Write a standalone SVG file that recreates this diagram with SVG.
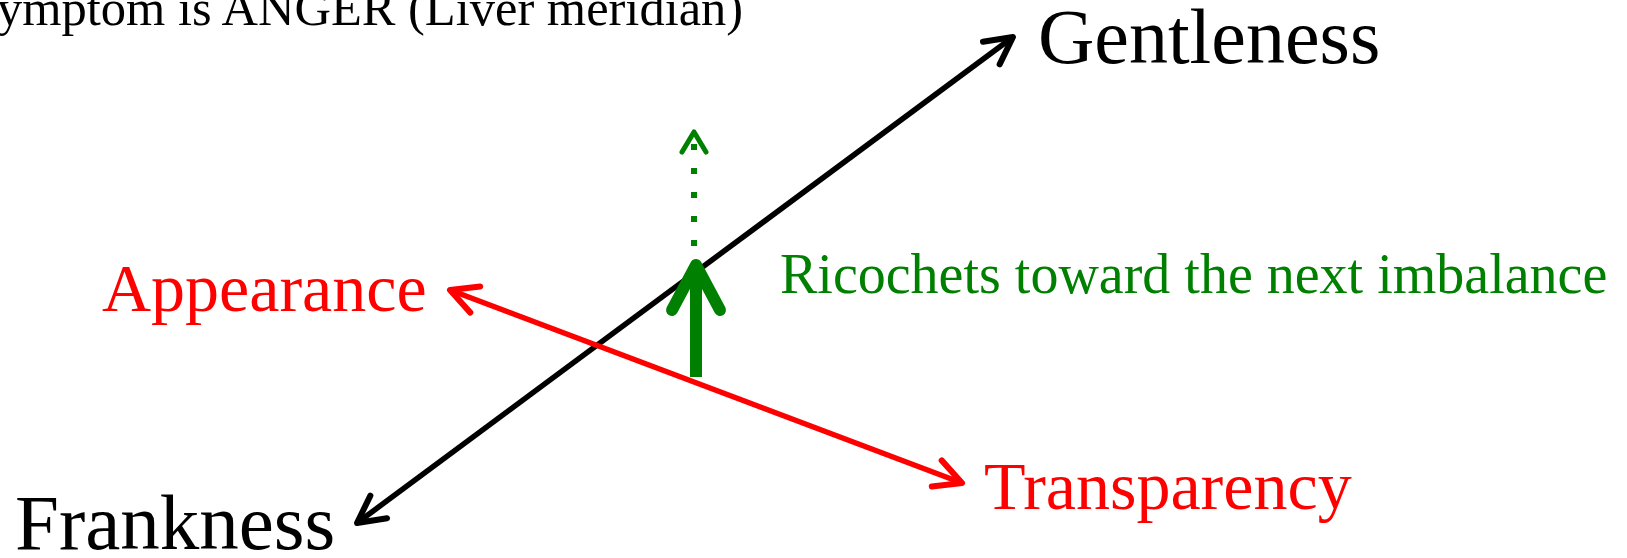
<svg xmlns="http://www.w3.org/2000/svg" width="1627" height="558" viewBox="0 0 1627 558">
<style>
text{font-family:"Liberation Serif","Times New Roman",serif;}
.blk{fill:#000;}
.red{fill:#ff0000;}
.grn{fill:#008000;}
.ln{fill:none;stroke-linecap:round;stroke-linejoin:round;}
</style>
<defs>
<marker id="ab" markerUnits="userSpaceOnUse" viewBox="-34 -20 40 40" markerWidth="40" markerHeight="40" refX="0" refY="0" orient="auto-start-reverse" overflow="visible">
<path d="M-27,-14 L0,0 L-27,14" fill="none" stroke="#000" stroke-width="6" stroke-linecap="round" stroke-linejoin="round"/>
</marker>
<marker id="ar" markerUnits="userSpaceOnUse" viewBox="-34 -20 40 40" markerWidth="40" markerHeight="40" refX="0" refY="0" orient="auto-start-reverse" overflow="visible">
<path d="M-27,-14 L0,0 L-27,14" fill="none" stroke="#ff0000" stroke-width="6" stroke-linecap="round" stroke-linejoin="round"/>
</marker>
</defs>
<rect width="1627" height="558" fill="#fff"/>
<g id="connectors">
<line x1="1013" y1="37" x2="357" y2="523" stroke="#000" stroke-width="5.5" marker-start="url(#ab)" marker-end="url(#ab)"/>
<line x1="450" y1="290" x2="962" y2="483" stroke="#ff0000" stroke-width="5.5" marker-start="url(#ar)" marker-end="url(#ar)"/>
<line x1="696" y1="377" x2="696" y2="268" stroke="#008000" stroke-width="12"/>
<path class="ln" d="M672,310 L696,265 L720,310" stroke="#008000" stroke-width="12"/>
<line x1="694" y1="246" x2="694" y2="140" stroke="#008000" stroke-width="6" stroke-dasharray="6 18"/>
<path class="ln" d="M682,152 L694,132 L706,152" stroke="#008000" stroke-width="5"/>
</g>
<g id="title"><text x="-3" y="25" font-size="50.5" class="blk">ymptom is ANGER (Liver meridian)</text></g>
<g id="gentleness"><text x="1038" y="63" font-size="78" class="blk">Gentleness</text></g>
<g id="frankness"><text x="15" y="549" font-size="79" class="blk">Frankness</text></g>
<g id="appearance"><text x="102" y="311" font-size="68" class="red">Appearance</text></g>
<g id="transparency"><text x="984" y="509" font-size="68" class="red">Transparency</text></g>
<g id="ricochet"><text x="780" y="293" font-size="56" class="grn">Ricochets toward the next imbalance</text></g>
</svg>
